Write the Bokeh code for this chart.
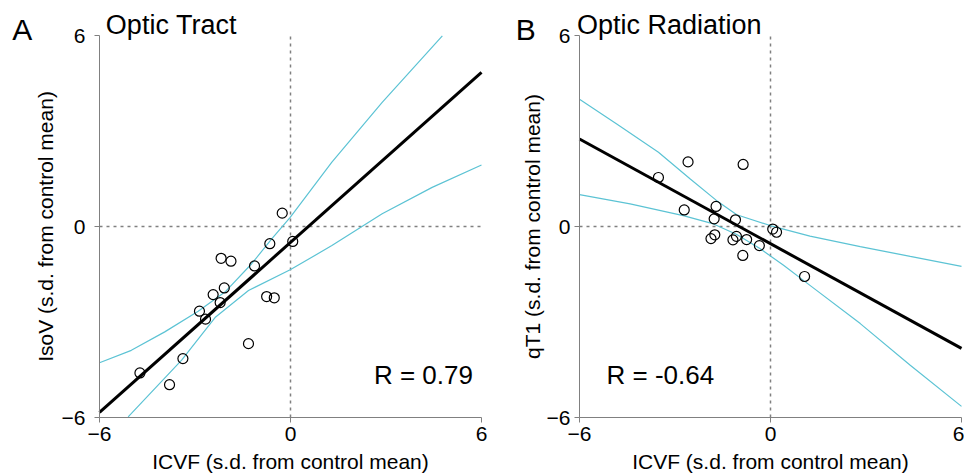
from bokeh.plotting import figure
from bokeh.layouts import row
from bokeh.models import Range1d, FixedTicker, Label
from bokeh.embed import file_html
from bokeh.resources import INLINE

# ---------------- data ----------------
# Panel A: Optic Tract
a_icvf = [-0.26, 0.07, -0.65, -2.18, -1.87, -1.13, -2.08, -2.43, -2.21,
          -0.75, -0.51, -2.86, -2.67, -1.32, -3.38, -4.73, -3.80]
a_isov = [0.42, -0.47, -0.54, -1.00, -1.09, -1.24, -1.93, -2.14, -2.39,
          -2.20, -2.24, -2.66, -2.91, -3.68, -4.15, -4.60, -4.97]
a_fit_x = [-6.0, 6.0]
a_fit_y = [-5.84, 4.84]
a_up_x = [-6.0, -5.0, -3.95, -2.90, -2.06, -1.22, -0.59, -0.01, 1.30, 2.88, 4.77]
a_up_y = [-4.28, -3.89, -3.31, -2.66, -2.06, -1.17, -0.39, 0.29, 2.02, 3.90, 5.99]
a_lo_x = [-5.10, -3.42, -2.37, -1.32, -0.01, 1.30, 2.88, 4.45, 6.0]
a_lo_y = [-5.98, -4.20, -2.86, -2.01, -1.36, -0.60, 0.40, 1.23, 1.93]
a_r_text = "R = 0.79"

# Panel B: Optic Radiation
b_icvf = [-2.59, -0.86, -3.52, -1.71, -2.71, -1.77, -1.10, 0.07, 0.19,
          -1.75, -1.87, -1.07, -1.18, -0.75, -0.35, -0.87, 1.07]
b_qt1 = [2.03, 1.95, 1.54, 0.63, 0.52, 0.24, 0.21, -0.08, -0.18,
         -0.26, -0.38, -0.31, -0.42, -0.41, -0.60, -0.91, -1.57]
b_fit_x = [-6.0, 6.0]
b_fit_y = [2.75, -3.83]
b_up_x = [-6.0, -4.83, -3.52, -2.52, -1.70, -1.06, -0.01, 1.24, 2.82, 4.39, 6.0]
b_up_y = [4.00, 3.22, 2.33, 1.49, 0.82, 0.37, 0.03, -0.30, -0.63, -0.94, -1.25]
b_lo_x = [-6.0, -4.41, -2.74, -1.79, -1.06, -0.32, 0.41, 1.24, 2.82, 4.39, 6.0]
b_lo_y = [1.00, 0.71, 0.34, 0.08, -0.25, -0.70, -1.22, -1.85, -3.05, -4.36, -5.65]
b_r_text = "R = -0.64"

ticks = [-6, 0, 6]
FONT = "Liberation Sans"
BAND = "#5cc3d4"
GRAY = "#808080"

PX = 382 / 12.0          # pixels per data unit
TOP, BOTTOM, H = 35, 59, 476


def panel(width, left, right, letter, title, ylabel, xs, ys, fx, fy, ux, uy,
          lx, ly, rtext, rpos, ytick_standoff, ylab_standoff, letter_x):
    lo, hi = ticks[0], ticks[-1]
    xr = Range1d(lo - left / PX, hi + right / PX)
    yr = Range1d(lo - BOTTOM / PX, hi + TOP / PX)
    p = figure(width=width, height=H, output_backend="svg", toolbar_location=None,
               x_range=xr, y_range=yr, min_border=0, title_location=None)
    p.outline_line_color = None
    p.xgrid.visible = False
    p.ygrid.visible = False
    p.background_fill_color = "white"
    p.border_fill_color = "white"

    for ax, lab in ((p.xaxis[0], "ICVF (s.d. from control mean)"), (p.yaxis[0], ylabel)):
        ax.ticker = FixedTicker(ticks=ticks)
        ax.fixed_location = lo
        ax.bounds = (lo, hi)
        ax.axis_label = lab
        ax.axis_label_text_font = FONT
        ax.axis_label_text_font_size = "21px"
        ax.axis_label_text_font_style = "normal"
        ax.axis_label_text_color = "black"
        ax.major_label_text_font = FONT
        ax.major_label_text_font_size = "21px"
        ax.major_label_text_color = "black"
        ax.axis_line_color = GRAY
        ax.major_tick_line_color = GRAY
        ax.minor_tick_line_color = None
        ax.major_tick_in = 0
        ax.major_tick_out = 5
    p.xaxis[0].major_label_standoff = 4
    p.xaxis[0].axis_label_standoff = 6
    p.yaxis[0].major_label_standoff = ytick_standoff
    p.yaxis[0].axis_label_standoff = ylab_standoff

    # dashed zero lines, limited to the axis extent
    p.line([ticks[1], ticks[1]], [lo, hi], line_color=GRAY, line_dash="3 4", line_width=1.5)
    p.line([lo, hi], [ticks[1], ticks[1]], line_color=GRAY, line_dash="3 4", line_width=1.5)

    p.line(ux, uy, line_color=BAND, line_width=1.2)
    p.line(lx, ly, line_color=BAND, line_width=1.2)
    p.line(fx, fy, line_color="black", line_width=3)
    p.scatter(xs, ys, size=10, fill_color=None, line_color="black", line_width=1.2)

    p.add_layout(Label(x=letter_x, y=6.20, text=letter, text_font=FONT,
                       text_font_size="30px", text_baseline="alphabetic",
                       text_align="left", text_color="black"))
    p.add_layout(Label(x=rpos[2], y=6.32, text=title, text_font=FONT,
                       text_font_size="27px", text_baseline="alphabetic",
                       text_align="left", text_color="black"))
    p.add_layout(Label(x=rpos[0], y=rpos[1], text=rtext, text_font=FONT,
                       text_font_size="26px", text_baseline="alphabetic",
                       text_align="left", text_color="black"))
    return p


p1 = panel(491, 99, 10, "A", "Optic Tract", "IsoV (s.d. from control mean)",
           a_icvf, a_isov, a_fit_x, a_fit_y, a_up_x, a_up_y, a_lo_x, a_lo_y,
           a_r_text, (2.62, -4.66, -5.80), 9, 2, -8.74)
p2 = panel(473, 88, 3, "B", "Optic Radiation", "qT1 (s.d. from control mean)",
           b_icvf, b_qt1, b_fit_x, b_fit_y, b_up_x, b_up_y, b_lo_x, b_lo_y,
           b_r_text, (-5.15, -4.66, -6.08), 4, 0, -8.0)

layout = row(p1, p2)
open("out.html", "w").write(file_html(layout, INLINE))
